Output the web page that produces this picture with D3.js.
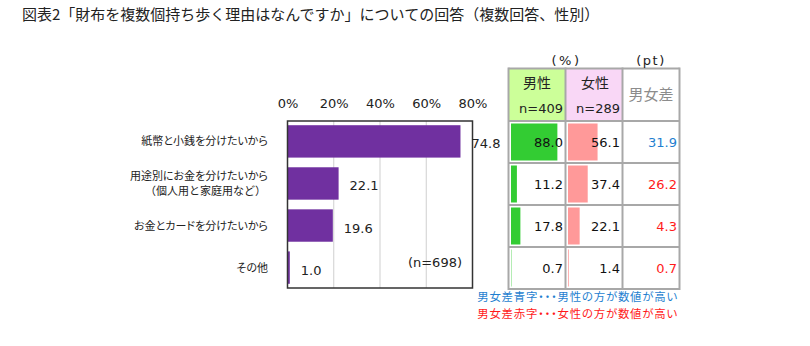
<!DOCTYPE html>
<html><head><meta charset="utf-8">
<script src="https://cdn.jsdelivr.net/npm/d3@7"></script>
<style>
html,body{margin:0;padding:0;background:#fff;}
text{font-family:'DejaVu Sans','Noto Sans CJK JP',sans-serif;}
.jp{font-family:'Noto Sans CJK JP',sans-serif;font-feature-settings:"palt";}
.jpw{font-family:'Noto Sans CJK JP',sans-serif;}
</style>
</head><body>
<svg id="c" width="810" height="346"></svg>
<script>
const title = "図表2「財布を複数個持ち歩く理由はなんですか」についての回答（複数回答、性別）";
const categories = ["紙幣と小銭を分けたいから", "用途別にお金を分けたいから|（個人用と家庭用など）", "お金とカードを分けたいから", "その他"];
const totalValues = [74.8, 22.1, 19.6, 1.0];
const maleValues = [88.0, 11.2, 17.8, 0.7];
const femaleValues = [56.1, 37.4, 22.1, 1.4];
const diffValues = [31.9, 26.2, 4.3, 0.7];
const xTicks = [0, 20, 40, 60, 80];
const sampleNote = "(n=698)";
const maleHeader = ["男性", "n=409"];
const femaleHeader = ["女性", "n=289"];
const diffHeader = "男女差";
const unitLabels = ["(%)", "(pt)"];
const legendLines = ["男女差青字・・・男性の方が数値が高い", "男女差赤字・・・女性の方が数値が高い"];

const svg = d3.select("#c");
svg.append("rect").attr("width",810).attr("height",346).attr("fill","#fff");

// Title
svg.append("text").attr("class","jpw").attr("x",22).attr("y",20)
  .attr("font-size",15).attr("fill","#222").text(title);

// Bar chart
const x = d3.scaleLinear().domain([0,80]).range([287.5,472.5]);
const y = d3.scaleBand().domain(categories).range([121,288]).paddingInner(0.23).paddingOuter(0.1);

const g = svg.append("g");
g.selectAll("line.grid").data(xTicks.slice(1,-1)).join("line")
  .attr("x1",d=>x(d)).attr("x2",d=>x(d)).attr("y1",121).attr("y2",288)
  .attr("stroke","#cfcfcf").attr("stroke-width",1);

g.selectAll("rect.bar").data(totalValues).join("rect")
  .attr("x",x(0)).attr("y",(d,i)=>y(categories[i]))
  .attr("width",d=>x(d)-x(0)).attr("height",y.bandwidth())
  .attr("fill","#7030a0");

g.append("rect").attr("x",x(0)).attr("y",121).attr("width",x(80)-x(0)).attr("height",167)
  .attr("fill","none").attr("stroke","#333").attr("stroke-width",1.5);

// axis tick labels (top)
const axis = d3.axisTop(x).tickValues(xTicks).tickFormat(d=>d+"%").tickSize(0).tickPadding(0);
const ax = g.append("g").attr("transform","translate(0,108)").call(axis);
ax.select(".domain").remove();
ax.selectAll("text").attr("font-size",13).attr("fill","#222")
  .attr("font-family","'DejaVu Sans',sans-serif");

// value labels
g.selectAll("text.val").data(totalValues).join("text")
  .attr("x",d=>x(d)+11).attr("y",(d,i)=>y(categories[i])+y.bandwidth()/2+7)
  .attr("font-size",13).attr("fill","#222").text(d=>d.toFixed(1));

// category labels
categories.forEach((c,i)=>{
  const lines = c.split("|");
  const cy = y(c)+y.bandwidth()/2;
  lines.forEach((ln,j)=>{
    const off = (j-(lines.length-1)/2)*15.5;
    g.append("text").attr("class", j>0 ? "jpw" : "jp").attr("x", j>0 ? 266 : 268).attr("y",cy+off+4)
      .attr("text-anchor","end").attr("font-size",11).attr("fill","#222").text(ln);
  });
});

g.append("text").attr("x",462).attr("y",266.5).attr("text-anchor","end")
  .attr("font-size",13).attr("fill","#222").text(sampleNote);

// Table
const colEdges = [508.5, 565.5, 622.5, 679.5];
const rowScale = d3.scaleBand().domain(categories).range([121,289]).padding(0);
const tableTop = 68.5;
const tg = svg.append("g");

// header backgrounds
tg.append("rect").attr("x",colEdges[0]).attr("y",tableTop).attr("width",colEdges[1]-colEdges[0]).attr("height",121-tableTop).attr("fill","#ccff99");
tg.append("rect").attr("x",colEdges[1]).attr("y",tableTop).attr("width",colEdges[2]-colEdges[1]).attr("height",121-tableTop).attr("fill","#f9d7f6");

const cellBar = d3.scaleLinear().domain([0,100]).range([0,52.7]);
tg.selectAll("rect.mb").data(maleValues).join("rect")
  .attr("x",colEdges[0]+2.5).attr("y",(d,i)=>rowScale(categories[i])+2.5)
  .attr("width",d=>cellBar(d)).attr("height",rowScale.bandwidth()-5).attr("fill","#33cc33");
tg.selectAll("rect.fb").data(femaleValues).join("rect")
  .attr("x",colEdges[1]+2.5).attr("y",(d,i)=>rowScale(categories[i])+2.5)
  .attr("width",d=>cellBar(d)).attr("height",rowScale.bandwidth()-5).attr("fill","#ff9999");

// table lines
const hEdges = [tableTop, ...categories.map(c=>rowScale(c)), 289];
hEdges.forEach(yy=>{
  tg.append("line").attr("x1",colEdges[0]).attr("x2",colEdges[3]).attr("y1",yy).attr("y2",yy)
    .attr("stroke","#a8a8a8").attr("stroke-width",2);
});
colEdges.forEach(xx=>{
  tg.append("line").attr("x1",xx).attr("x2",xx).attr("y1",tableTop-1).attr("y2",290)
    .attr("stroke","#a8a8a8").attr("stroke-width",2);
});

// header texts
tg.append("text").attr("class","jp").attr("x",537).attr("y",87.5).attr("text-anchor","middle").attr("font-size",14).attr("fill","#222").text(maleHeader[0]);
tg.append("text").attr("x",563).attr("y",113).attr("text-anchor","end").attr("font-size",13).attr("fill","#222").text(maleHeader[1]);
tg.append("text").attr("class","jp").attr("x",595).attr("y",87.5).attr("text-anchor","middle").attr("font-size",14).attr("fill","#222").text(femaleHeader[0]);
tg.append("text").attr("x",620).attr("y",113).attr("text-anchor","end").attr("font-size",13).attr("fill","#222").text(femaleHeader[1]);
tg.append("text").attr("class","jp").attr("x",651).attr("y",100).attr("text-anchor","middle").attr("font-size",15).attr("fill","#8c8c8c").text(diffHeader);

tg.append("text").attr("x",566.5).attr("y",64.5).attr("text-anchor","middle").attr("font-size",13).attr("letter-spacing",2.5).attr("fill","#222").text(unitLabels[0]);
tg.append("text").attr("x",651).attr("y",64.5).attr("text-anchor","middle").attr("font-size",13).attr("letter-spacing",1.5).attr("fill","#222").text(unitLabels[1]);

// cell values
const rowMid = i => rowScale(categories[i]) + rowScale.bandwidth()/2 + 5;
tg.selectAll("text.mv").data(maleValues).join("text")
  .attr("x",563).attr("y",(d,i)=>rowMid(i)).attr("text-anchor","end").attr("font-size",13).attr("fill","#111").text(d=>d.toFixed(1));
tg.selectAll("text.fv").data(femaleValues).join("text")
  .attr("x",620).attr("y",(d,i)=>rowMid(i)).attr("text-anchor","end").attr("font-size",13).attr("fill","#111").text(d=>d.toFixed(1));
tg.selectAll("text.dv").data(diffValues).join("text")
  .attr("x",677).attr("y",(d,i)=>rowMid(i)).attr("text-anchor","end").attr("font-size",13)
  .attr("fill",(d,i)=> maleValues[i] > femaleValues[i] ? "#1f7fd0" : "#ff1a1a").text(d=>d.toFixed(1));

// legend
tg.append("text").attr("class","jp").attr("x",678).attr("y",301).attr("text-anchor","end").attr("font-size",11.4).attr("letter-spacing",0.8).attr("fill","#1f7fd0").text(legendLines[0]);
tg.append("text").attr("class","jp").attr("x",678).attr("y",318).attr("text-anchor","end").attr("font-size",11.4).attr("letter-spacing",0.8).attr("fill","#ff1a1a").text(legendLines[1]);
</script>
</body></html>
